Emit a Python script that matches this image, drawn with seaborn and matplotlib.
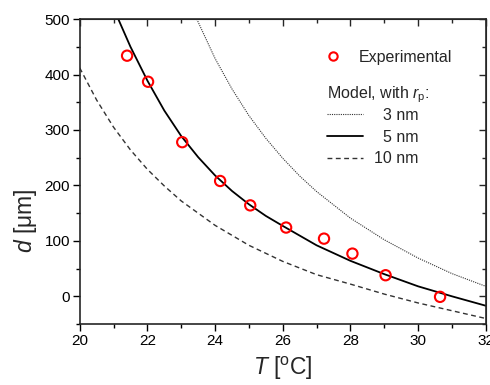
import numpy as np
import pandas as pd
import matplotlib
matplotlib.use("Agg")
import matplotlib.pyplot as plt
from matplotlib.ticker import MultipleLocator
from matplotlib.lines import Line2D
import seaborn as sns

# experimental points
T_exp = [21.4, 22.02, 23.03, 24.15, 25.04, 26.1, 27.22, 28.06, 29.04, 30.65]
d_exp = [434, 387, 278, 208, 164, 124, 104, 77, 38, -1]

# model curves
T_3nm = [23.46, 24.0, 24.5, 25.0, 25.5, 26.0, 26.5, 27.0, 28.0, 29.0, 30.0, 31.0, 32.0]
d_3nm = [500, 429, 374, 326, 285, 249, 217, 189, 141, 102, 69, 41, 18]

T_5nm = [21.14, 21.5, 22.0, 22.5, 23.0, 23.5, 24.0, 24.5, 25.0, 25.5, 26.0, 27.0, 28.0, 29.0, 30.0, 31.0, 32.0]
d_5nm = [500, 450, 389, 335, 289, 251, 218, 190, 166, 145, 127, 92, 64, 40, 18, 0, -17]

T_10nm = [20.0, 20.5, 21.0, 21.5, 22.0, 22.5, 23.0, 24.0, 25.0, 26.0, 27.0, 28.0, 29.0, 30.0, 31.0, 32.0]
d_10nm = [412, 354, 305, 264, 229, 199, 172, 128, 92, 63, 39, 22, 4, -12, -26, -40]

sns.set_style("ticks")
plt.rcParams["font.family"] = ["Liberation Sans", "DejaVu Sans"]
plt.rcParams["mathtext.fontset"] = "custom"
plt.rcParams["mathtext.rm"] = "Liberation Sans"
plt.rcParams["mathtext.it"] = "Liberation Sans:italic"

fig = plt.figure(figsize=(4.9, 3.85), dpi=100)
ax = fig.add_axes([0.1627, 0.1584, 0.8286, 0.792])

sns.lineplot(x=T_3nm, y=d_3nm, ax=ax, color="#333333", lw=0.8, linestyle=(0, (1, 1)))
sns.lineplot(x=T_5nm, y=d_5nm, ax=ax, color="black", lw=1.3)
sns.lineplot(x=T_10nm, y=d_10nm, ax=ax, color="#333333", lw=1.0, linestyle=(0, (3.5, 2.5)))
sns.scatterplot(x=T_exp, y=d_exp, ax=ax, marker="o", s=55, facecolors="none",
                edgecolor="red", linewidth=1.5, zorder=5)

ax.set_xlim(20, 32)
ax.set_ylim(-50, 500)
ax.xaxis.set_major_locator(MultipleLocator(2))
ax.xaxis.set_minor_locator(MultipleLocator(1))
ax.yaxis.set_major_locator(MultipleLocator(100))
ax.yaxis.set_minor_locator(MultipleLocator(50))
ax.tick_params(which="both", direction="out", labelsize=11, width=1.0, colors="black")
ax.tick_params(which="major", length=5, pad=2)
ax.tick_params(which="minor", length=3)
for sp in ax.spines.values():
    sp.set_visible(True)
    sp.set_linewidth(1.2)

# mirrored ticks, pointing in
top = ax.secondary_xaxis("top")
top.xaxis.set_major_locator(MultipleLocator(2))
top.xaxis.set_minor_locator(MultipleLocator(1))
top.tick_params(which="both", direction="in", labeltop=False, width=1.0)
top.tick_params(which="major", length=5)
top.tick_params(which="minor", length=3)
right = ax.secondary_yaxis("right")
right.yaxis.set_major_locator(MultipleLocator(100))
right.yaxis.set_minor_locator(MultipleLocator(50))
right.tick_params(which="both", direction="in", labelright=False, width=1.0)
right.tick_params(which="major", length=5)
right.tick_params(which="minor", length=3)

ax.set_xlabel(r"$\mathit{T}$ [$^{\rm o}$C]", fontsize=16.5, labelpad=5)
ax.set_ylabel(r"$\mathit{d}$ [μm]", fontsize=16.5)
ax.yaxis.set_label_coords(-0.1, 0.34)

h_exp = [Line2D([], [], ls="none", marker="o", ms=6, mfc="none", mec="red", mew=1.5)]
leg1 = ax.legend(h_exp, ["Experimental"], loc="upper left", bbox_to_anchor=(0.6, 0.9),
                 frameon=False, fontsize=11.5, handlelength=1.2, handletextpad=1.0,
                 borderpad=0, borderaxespad=0)
ax.add_artist(leg1)

h_mod = [Line2D([], [], color="#333333", lw=0.8, ls=(0, (1, 1))),
         Line2D([], [], color="black", lw=1.3),
         Line2D([], [], color="#333333", lw=1.0, ls=(0, (3.5, 2.5)))]
leg2 = ax.legend(h_mod, ["  3 nm", "  5 nm", "10 nm"], loc="upper left",
                 bbox_to_anchor=(0.608, 0.785), frameon=False, fontsize=11.5,
                 title=r"Model, with $r_{\rm p}$:", title_fontsize=11.5,
                 alignment="left", handlelength=2.3, handletextpad=0.65,
                 labelspacing=0.42, borderpad=0, borderaxespad=0)
leg2._legend_box.sep = 2

fig.savefig("out.png", dpi=100)
